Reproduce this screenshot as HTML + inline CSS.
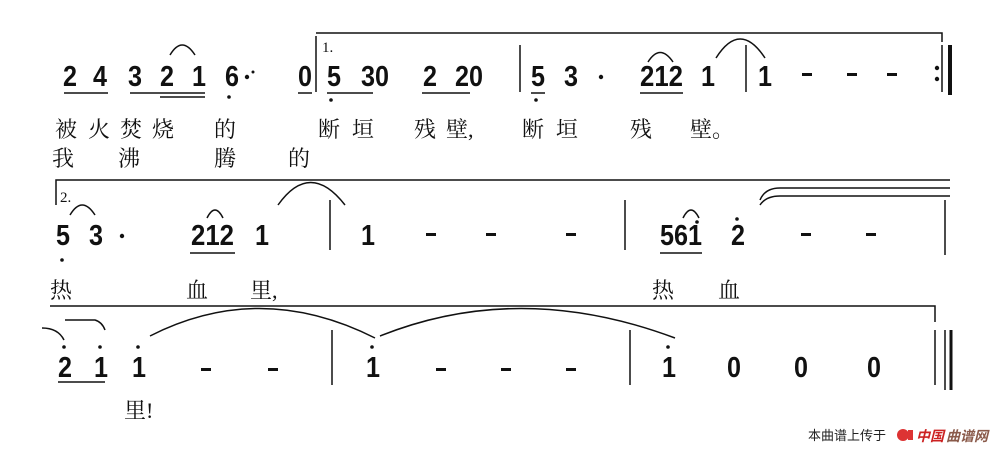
<!DOCTYPE html>
<html><head><meta charset="utf-8"><style>
html,body{margin:0;padding:0;background:#fff;}
svg{display:block;}
.n text{font-family:"Liberation Sans",sans-serif;font-weight:bold;font-size:29px;fill:#111;}
.l{font-family:"Liberation Serif","Noto Serif CJK SC",serif;font-size:22px;fill:#111;}
.s{font-family:"Liberation Serif",serif;font-size:15px;fill:#111;}
</style></head><body>
<svg width="1000" height="452" viewBox="0 0 1000 452" xmlns="http://www.w3.org/2000/svg">
<g stroke="#111" fill="none" stroke-width="1.5">
<path d="M316,36 V92 M316,33 H942 V42"/>
<path d="M520,45 V92 M746,45 V92"/>
<path d="M942,45 V92" /><path d="M950,45 V95" stroke-width="4"/>
<path d="M64,93 H108 M130,93 H205 M160,97 H205 M298,93 H312 M327,93 H373 M422,93 H470 M531,93 H545 M640,93 H683"/>
<path d="M170,55 Q182,35 195,55"/>
<path d="M648,62 Q660,43 673,62"/>
<path d="M716,58 Q740,20 765,58"/>
<path d="M56,205 V180 H950"/>
<path d="M760,200 Q765,188 780,188 H950 M760,205 Q766,196 780,196 H950"/>
<path d="M330,200 V250 M625,200 V250 M945,200 V255"/>
<path d="M190,253 H235 M660,253 H702"/>
<path d="M70,215 Q82,195 95,215 M207,218 Q215,202 223,218 M278,205 Q310,160 345,205 M683,218 Q691,202 699,218"/>
<path d="M50,306 H935 V322"/>
<path d="M935,330 V385 M945,330 V390" />
<path d="M951,330 V390" stroke-width="3"/>
<path d="M332,330 V385 M630,330 V385"/>
<path d="M58,382 H105"/>
<path d="M42,328 Q58,328 64,340 M65,320 H95 Q102,322 105,330"/>
<path d="M150,336 Q260,280 375,338 M380,336 Q520,280 675,338"/>
</g>
<g class="n">
<text x="63" y="86" textLength="14" lengthAdjust="spacingAndGlyphs">2</text><text x="93" y="86" textLength="14" lengthAdjust="spacingAndGlyphs">4</text><text x="128" y="86" textLength="14" lengthAdjust="spacingAndGlyphs">3</text><text x="160" y="86" textLength="14" lengthAdjust="spacingAndGlyphs">2</text><text x="192" y="86" textLength="14" lengthAdjust="spacingAndGlyphs">1</text><text x="225" y="86" textLength="14" lengthAdjust="spacingAndGlyphs">6</text>
<text x="298" y="86" textLength="14" lengthAdjust="spacingAndGlyphs">0</text><text x="327" y="86" textLength="14" lengthAdjust="spacingAndGlyphs">5</text><text x="361" y="86" textLength="28" lengthAdjust="spacingAndGlyphs">30</text><text x="423" y="86" textLength="14" lengthAdjust="spacingAndGlyphs">2</text><text x="455" y="86" textLength="28" lengthAdjust="spacingAndGlyphs">20</text>
<text x="531" y="86" textLength="14" lengthAdjust="spacingAndGlyphs">5</text><text x="564" y="86" textLength="14" lengthAdjust="spacingAndGlyphs">3</text><text x="640" y="86" textLength="43" lengthAdjust="spacingAndGlyphs">212</text><text x="701" y="86" textLength="14" lengthAdjust="spacingAndGlyphs">1</text><text x="758" y="86" textLength="14" lengthAdjust="spacingAndGlyphs">1</text>
<text x="56" y="245" textLength="14" lengthAdjust="spacingAndGlyphs">5</text><text x="89" y="245" textLength="14" lengthAdjust="spacingAndGlyphs">3</text><text x="191" y="245" textLength="43" lengthAdjust="spacingAndGlyphs">212</text><text x="255" y="245" textLength="14" lengthAdjust="spacingAndGlyphs">1</text><text x="361" y="245" textLength="14" lengthAdjust="spacingAndGlyphs">1</text>
<text x="660" y="245" textLength="42" lengthAdjust="spacingAndGlyphs">561</text><text x="731" y="245" textLength="14" lengthAdjust="spacingAndGlyphs">2</text>
<text x="58" y="377" textLength="14" lengthAdjust="spacingAndGlyphs">2</text><text x="94" y="377" textLength="14" lengthAdjust="spacingAndGlyphs">1</text><text x="132" y="377" textLength="14" lengthAdjust="spacingAndGlyphs">1</text><text x="366" y="377" textLength="14" lengthAdjust="spacingAndGlyphs">1</text><text x="662" y="377" textLength="14" lengthAdjust="spacingAndGlyphs">1</text>
<text x="727" y="377" textLength="14" lengthAdjust="spacingAndGlyphs">0</text><text x="794" y="377" textLength="14" lengthAdjust="spacingAndGlyphs">0</text><text x="867" y="377" textLength="14" lengthAdjust="spacingAndGlyphs">0</text>
</g>
<g fill="#111">
<rect x="802" y="73" width="10" height="3"/><rect x="847" y="73" width="10" height="3"/><rect x="887" y="73" width="10" height="3"/>
<rect x="426" y="233" width="10" height="3"/><rect x="486" y="233" width="10" height="3"/><rect x="566" y="233" width="10" height="3"/>
<rect x="801" y="233" width="10" height="3"/><rect x="866" y="233" width="10" height="3"/>
<rect x="201" y="368" width="10" height="3"/><rect x="268" y="368" width="10" height="3"/>
<rect x="436" y="368" width="10" height="3"/><rect x="501" y="368" width="10" height="3"/><rect x="566" y="368" width="10" height="3"/>
<circle cx="247" cy="77" r="2.2"/><circle cx="253" cy="72" r="1.5"/><circle cx="601" cy="77" r="2.2"/>
<circle cx="229" cy="97" r="1.8"/><circle cx="331" cy="100" r="1.8"/><circle cx="536" cy="100" r="1.8"/>
<circle cx="937" cy="68" r="2.2"/><circle cx="937" cy="79" r="2.2"/>
<circle cx="122" cy="236" r="2.2"/><circle cx="62" cy="260" r="1.8"/>
<circle cx="697" cy="222" r="1.8"/><circle cx="737" cy="219" r="1.8"/>
<circle cx="64" cy="347" r="1.8"/><circle cx="100" cy="347" r="1.8"/><circle cx="138" cy="347" r="1.8"/><circle cx="372" cy="347" r="1.8"/><circle cx="668" cy="347" r="1.8"/>
</g>
<text class="s" x="322" y="52">1.</text>
<text class="s" x="60" y="202">2.</text>
<g class="l">
<text x="55" y="137">被</text><text x="88" y="137">火</text><text x="120" y="137">焚</text><text x="152" y="137">烧</text><text x="214" y="137">的</text>
<text x="318" y="137">断</text><text x="352" y="137">垣</text><text x="414" y="137">残</text><text x="446" y="137">壁,</text>
<text x="522" y="137">断</text><text x="556" y="137">垣</text><text x="630" y="137">残</text><text x="690" y="137">壁。</text>
<text x="52" y="166">我</text><text x="118" y="166">沸</text><text x="214" y="166">腾</text><text x="288" y="166">的</text>
<text x="50" y="298">热</text><text x="186" y="298">血</text><text x="250" y="298">里,</text><text x="652" y="298">热</text><text x="718" y="298">血</text>
<text x="124" y="418">里!</text>
</g>
<text x="808" y="440" style="font-family:'Liberation Sans','Noto Sans CJK SC',sans-serif;font-size:13px;fill:#222">本曲谱上传于</text>
<circle cx="903" cy="435" r="6" fill="#d33"/><rect x="908" y="430" width="5" height="10" fill="#d33"/>
<text x="916" y="441" style="font-family:'Liberation Sans','Noto Sans CJK SC',sans-serif;font-size:14px;font-weight:bold;fill:#c22;font-style:italic">中国</text>
<text x="946" y="441" style="font-family:'Liberation Sans','Noto Sans CJK SC',sans-serif;font-size:14px;font-weight:bold;fill:#8a5a4a;font-style:italic">曲谱网</text>
</svg>
</body></html>
